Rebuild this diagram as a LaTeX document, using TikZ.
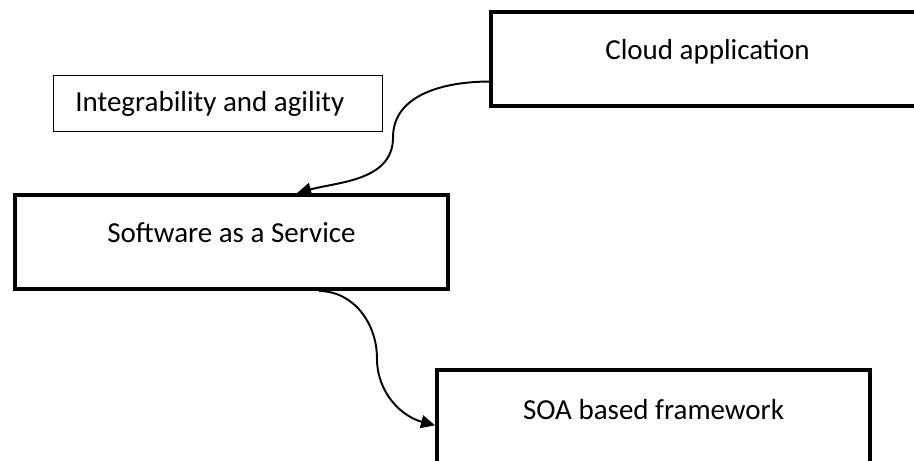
\documentclass[tikz,border=0pt]{standalone}
\usepackage{fontspec}
\setmainfont{Carlito}
\usetikzlibrary{arrows.meta, positioning, calc}

\begin{document}
\begin{tikzpicture}[
    block/.style={draw, line width=2.3pt, minimum width=8.66cm, minimum height=1.88cm,
                  anchor=north west, inner sep=0pt},
    blocktext/.style={font=\fontsize{16.5}{20}\selectfont, inner sep=0pt},
    note/.style={draw, line width=0.6pt, minimum width=6.58cm, minimum height=1.12cm,
                 anchor=north west, inner sep=0pt},
    link/.style={line width=1.1pt, -{Triangle[length=0.28cm, width=0.26cm]}}]

            % page size of the reference
            \useasboundingbox (0,0) rectangle (18.28,-9.22);

            %--- boxes
            \node[block] (cloud)   at (9.78,-0.20) {};
            \node[block] (saas)    at (0.26,-3.86) {};
            \node[block] (soa)     at (8.70,-7.36) {};
            \node[note]  (agility) at (1.06,-1.50) {};

            %--- box texts (upper half of each block, left side of the note)
            \node[blocktext] (cloudtxt) at ([yshift=-0.84cm]cloud.north) {Cloud application};
            \node[blocktext] (saastxt)  at ([yshift=-0.80cm]saas.north)  {Software as a Service};
            \node[blocktext] (soatxt)   at ([yshift=-0.84cm]soa.north)   {SOA based framework};
            \node[blocktext, anchor=west] (agilitytxt) at ([xshift=0.44cm]agility.west)
                {Integrability and agility};

            %--- connector ends
            \coordinate (cloudout) at ($(cloud.north west)!0.73!(cloud.south west)$);
            \coordinate (saasin)   at ($(saas.north west)!0.65!(saas.north east)$);
            \coordinate (saasout)  at ($(saas.south west)!0.70!(saas.south east)$);
            \coordinate (soain)    at ($(soa.north west)!0.585!(soa.south west)$);

            %--- curved connectors
            \draw[link] (cloudout) to[out=180,in=90] ($(cloudout)!0.5!(saasin)$)
                                   to[out=-90,in=15] (saasin);
            \draw[link] (saasout) to[out=0,in=90] ($(saasout)!0.5!(soain)$)
                                  to[out=-90,in=165] (soain);
\end{tikzpicture}
\end{document}
